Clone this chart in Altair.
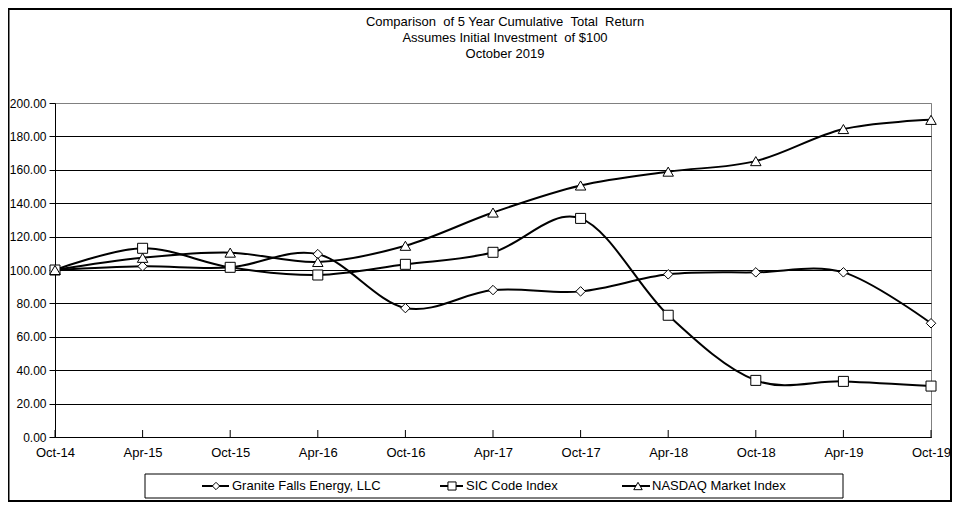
import altair as alt
import pandas as pd

dates = ["Oct-14", "Apr-15", "Oct-15", "Apr-16", "Oct-16", "Apr-17",
         "Oct-17", "Apr-18", "Oct-18", "Apr-19", "Oct-19"]
series_names = ["Granite Falls Energy, LLC", "SIC Code Index", "NASDAQ Market Index"]
granite = [100.0, 102.2, 101.6, 109.5, 77.2, 88.0, 87.2, 97.4, 98.6, 98.6, 68.1]
sic = [100.0, 113.0, 101.6, 97.0, 103.4, 110.6, 130.9, 72.9, 33.9, 33.3, 30.5]
nasdaq = [100.0, 107.3, 110.4, 104.8, 114.5, 134.4, 150.6, 158.9, 165.2, 184.4, 189.9]
y_ticks = [0, 20, 40, 60, 80, 100, 120, 140, 160, 180, 200]
NB = "\u00a0"
title_lines = ["Comparison " + NB + "of 5 Year Cumulative " + NB + "Total " + NB + "Return",
               "Assumes Initial Investment " + NB + "of $100",
               "October 2019"]

rows = []
for name, vals in zip(series_names, [granite, sic, nasdaq]):
    for d, v in zip(dates, vals):
        rows.append({"series": name, "date": d, "value": v})
df = pd.DataFrame(rows)

FONT = "Liberation Sans"
FS = 13
W, H = 876, 334
PAD = {"left": 47, "top": 95, "right": 21, "bottom": 65}

shapes = ["diamond", "square", "triangle-up"]
sizes = [90, 110, 120]

x_enc = alt.X("date:O", sort=dates,
              scale=alt.Scale(type="point", padding=0),
              axis=alt.Axis(title=None, labelAngle=0, ticks=False, labelPadding=9,
                            domainColor="black", labelColor="black",
                            labelFont=FONT, labelFontSize=FS, grid=False,
                            labelOverlap=False))
y_enc = alt.Y("value:Q", scale=alt.Scale(domain=[0, 200], nice=False),
              axis=alt.Axis(title=None, values=y_ticks, format=".2f",
                            tickSize=6, tickColor="black", domainColor="black",
                            labelPadding=3, labelColor="black", labelFont=FONT,
                            labelFontSize=12, grid=True, labelOverlap=False,
                            labelFlush=False,
                            gridColor={"condition": {"test": "datum.value >= 200", "value": "#808080"},
                                       "value": "black"},
                            gridWidth=1))

base = alt.Chart(df)

lines = base.mark_line(interpolate="cardinal", color="black", strokeWidth=2).encode(
    x=x_enc, y=y_enc, detail="series:N")

points = base.mark_point(filled=False, fill="white", stroke="black", strokeWidth=1,
                         opacity=1).encode(
    x=x_enc,
    y=y_enc,
    shape=alt.Shape("series:N", scale=alt.Scale(domain=series_names, range=shapes), legend=None),
    size=alt.Size("series:N", scale=alt.Scale(domain=series_names, range=sizes), legend=None),
)

tick_df = pd.DataFrame({"date": dates})
xticks = alt.Chart(tick_df).mark_rule(color="black", strokeWidth=1).encode(
    x=x_enc, y=alt.value(H), y2=alt.value(H - 7))

one = alt.Data(values=[{}])

title = alt.Chart(one).mark_text(text=title_lines, font=FONT, fontSize=FS, lineHeight=16,
                                 baseline="top", align="center", color="black").encode(
    x=alt.value(450), y=alt.value(-87))

border = alt.Chart(one).mark_rect(fillOpacity=0, stroke="black", strokeWidth=2).encode(
    x=alt.value(-46.5), x2=alt.value(W + PAD["right"] - 1),
    y=alt.value(-94), y2=alt.value(H + PAD["bottom"] - 1))

LEG_Y = 383
legend_box = alt.Chart(one).mark_rect(fillOpacity=0, stroke="black", strokeWidth=1).encode(
    x=alt.value(90), x2=alt.value(788), y=alt.value(LEG_Y - 12), y2=alt.value(LEG_Y + 12))

legend_layers = []
entry_pos = [(147, 174, 161, 177), (385, 408, 397, 411), (567, 595, 583, 597)]
for name, shp, sz, (lx1, lx2, mx, tx) in zip(series_names, shapes, sizes, entry_pos):
    d = alt.Data(values=[{"label": name}])
    legend_layers.append(alt.Chart(d).mark_rule(color="black", strokeWidth=2).encode(
        x=alt.value(lx1), x2=alt.value(lx2), y=alt.value(LEG_Y)))
    legend_layers.append(alt.Chart(d).mark_point(shape=shp, size=sz * 0.6, filled=False,
                                                 fill="white", stroke="black", strokeWidth=1,
                                                 opacity=1).encode(
        x=alt.value(mx), y=alt.value(LEG_Y)))
    legend_layers.append(alt.Chart(d).mark_text(font=FONT, fontSize=FS, align="left",
                                                baseline="middle", color="black").encode(
        x=alt.value(tx), y=alt.value(LEG_Y), text="label:N"))

chart = alt.layer(lines, points, xticks, title, border, legend_box, *legend_layers).properties(
    width=W, height=H, padding=PAD,
    autosize=alt.AutoSizeParams(type="none"),
    background="white",
).configure_view(stroke="#808080", strokeWidth=1)

chart.save("out.html", embed_options={"renderer": "svg", "actions": False})
